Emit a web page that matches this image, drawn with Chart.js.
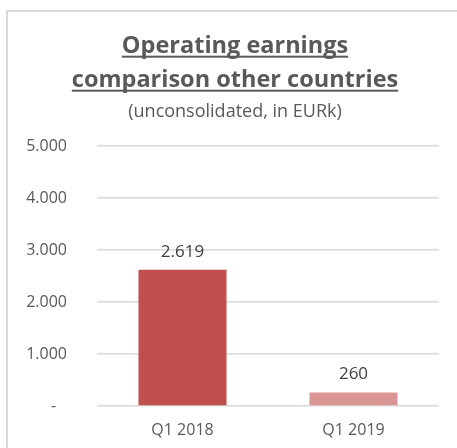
<!DOCTYPE html>
<html><head><meta charset="utf-8">
<script src="https://cdn.jsdelivr.net/npm/chart.js@4"></script>
<style>
html,body{margin:0;padding:0;background:#fff;overflow:hidden;width:457px;height:448px}
#frame{position:absolute;left:6px;top:10px;width:470px;height:460px;border-left:2px solid #D9D9D9;border-top:2px solid #D9D9D9}
canvas{position:absolute;left:0;top:0}
</style></head><body>
<div id="frame"><canvas id="c" width="454" height="440"></canvas></div>
<script>
const categories = ['Q1 2018', 'Q1 2019'];
const values = [2619, 260];
const barColors = ['#C0504D', '#DA9694'];
const titleLines = ['Operating earnings', 'comparison other countries'];
const subtitleText = '(unconsolidated, in EURk)';
const yTicks = [0, 1000, 2000, 3000, 4000, 5000];

const FONT = "'Open Sans', 'Liberation Sans', sans-serif";
function fmt(v) {
  if (v === 0) return '-\u2007\u200A';
  return String(v).replace(/\B(?=(\d{3})+(?!\d))/g, '.');
}

const underlinePlugin = {
  id: 'underline',
  afterLayout(chart) {
    // let the y tick labels extend into the left padding without being clipped
    chart.scales.y.left = 0;
  },
  afterDraw(chart) {
    const t = chart.titleBlock; const o = t.options;
    const ctx = chart.ctx;
    const font = Chart.helpers.toFont(o.font);
    const pad = Chart.helpers.toPadding(o.padding);
    ctx.save();
    ctx.font = font.string;
    ctx.textBaseline = 'middle';
    const mx = ctx.measureText('x');
    const cx = (t.left + t.right) / 2;
    titleLines.forEach((line, i) => {
      const mid = t.top + pad.top + font.lineHeight * (i + 0.5);
      const base = mid + mx.actualBoundingBoxDescent;
      const w = ctx.measureText(line).width;
      ctx.fillStyle = o.color;
      ctx.fillRect(cx - w / 2, base + 3, w, 2);
    });
    ctx.restore();
  }
};

const labelPlugin = {
  id: 'barLabels',
  afterDatasetsDraw(chart) {
    const ctx = chart.ctx;
    const meta = chart.getDatasetMeta(0);
    ctx.save();
    ctx.font = "17px " + FONT;
    ctx.fillStyle = '#404040';
    ctx.textAlign = 'center';
    ctx.textBaseline = 'middle';
    meta.data.forEach((bar, i) => {
      ctx.fillText(fmt(values[i]), bar.x, bar.y - 18);
    });
    ctx.restore();
  }
};

new Chart(document.getElementById('c'), {
  type: 'bar',
  data: {
    labels: categories,
    datasets: [{
      data: values,
      backgroundColor: barColors,
      borderWidth: 0,
      barPercentage: 0.515,
      categoryPercentage: 1
    }]
  },
  plugins: [underlinePlugin, labelPlugin],
  options: {
    responsive: false,
    animation: false,
    events: [],
    layout: { padding: { left: 23, right: 23, top: 0, bottom: 0 } },
    plugins: {
      legend: { display: false },
      tooltip: { enabled: false },
      title: {
        display: true,
        text: titleLines,
        color: '#595959',
        font: { family: FONT, size: 23.5, weight: 'bold', lineHeight: '34px' },
        padding: { top: 17, bottom: 0 }
      },
      subtitle: {
        display: true,
        text: subtitleText,
        color: '#595959',
        font: { family: FONT, size: 18, lineHeight: 1.2 },
        padding: { top: 4.2, bottom: 23.2 }
      }
    },
    scales: {
      x: {
        grid: { display: false },
        border: { display: false },
        ticks: { color: '#595959', font: { family: FONT, size: 16 }, padding: 6.5 },
        afterFit(s) { s.height = 46; }
      },
      y: {
        min: 0, max: 5000,
        afterBuildTicks(s) { s.ticks = yTicks.map(v => ({ value: v })); },
        grid: { color: '#D9D9D9', lineWidth: 1.5, drawTicks: false },
        border: { display: false },
        ticks: {
          color: '#595959',
          font: { family: FONT, size: 16 },
          padding: 30,
          callback: (v) => fmt(v)
        },
        afterFit(s) { s.width = 66; }
      }
    }
  }
});
</script>
</body></html>
